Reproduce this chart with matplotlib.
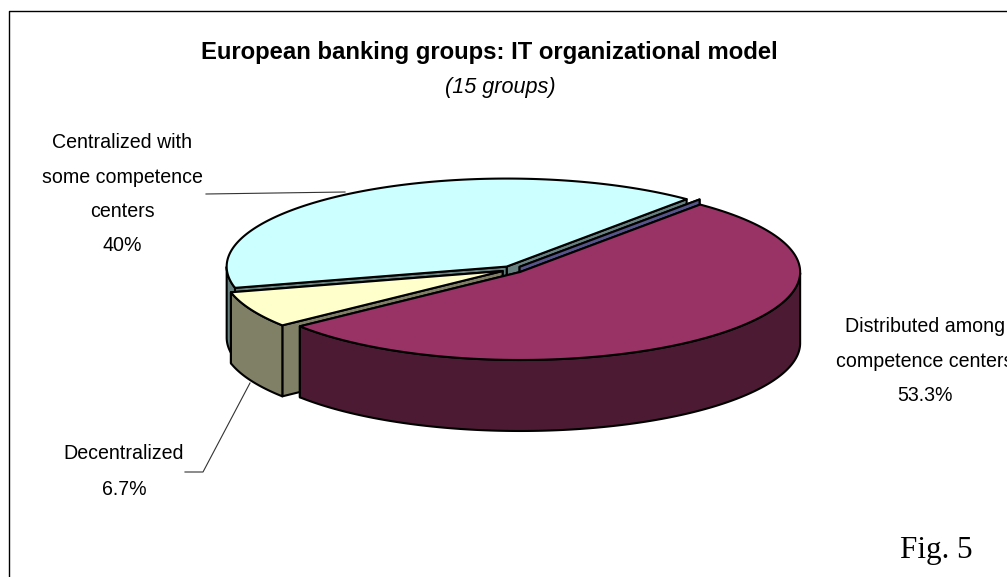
import numpy as np
import matplotlib
matplotlib.use('Agg')
import matplotlib.pyplot as plt

# Slices in clockwise order from the start angle
slice_names = ['Other', 'Distributed', 'Decentralized', 'Centralized']
slice_values = [0, 53.3, 6.7, 40]
top_colors = ['#9999ff', '#993366', '#ffffcc', '#ccffff']
wall_colors = ['#55558a', '#4d1a33', '#808066', '#668080']

title = 'European banking groups: IT organizational model'
subtitle = '(15 groups)'

# Pie geometry, in pixels
cx, cy = 512.5, 269.5
a, b = 280, 88
depth = 71
explode = 11
start_angle = 50

sans = 'Liberation Sans'

fig = plt.figure(figsize=(10.07, 5.77), dpi=100)
ax = fig.add_axes([0, 0, 1, 1])
ax.set_xlim(0, 1007)
ax.set_ylim(577, 0)
ax.axis('off')

# Outer frame, only the top and left sides fall inside the figure
ax.plot([1007, 8.5, 8.5], [10.5, 10.5, 577], color='black', lw=1.0)


def rim(x0, y0, t, dz=0):
    return x0 + a * np.cos(t), y0 - b * np.sin(t) + dz


def fill(xs, ys, color):
    ax.fill(xs, ys, facecolor=color, edgecolor='black', lw=1.5, joinstyle='round')


def inner_wall(x0, y0, t, color):
    x1, y1 = rim(x0, y0, t)
    fill([x0, x1, x1, x0], [y0, y1, y1 + depth, y0 + depth], color)


def draw_slice(t1, t2, top, wall):
    # t1 > t2, angles run clockwise
    mid = (t1 + t2) / 2
    x0 = cx + explode * np.cos(mid)
    y0 = cy - explode * b / a * np.sin(mid)

    # straight walls, the one further back first
    for t in sorted([t1, t2], key=lambda t: rim(x0, y0, t)[1]):
        inner_wall(x0, y0, t, wall)
    if t1 == t2:
        return

    # curved wall on the front half only
    ts = np.linspace(t1, t2, 240)
    front = ts[np.sin(ts) < 0]
    if len(front) > 1:
        xs, ys = rim(x0, y0, front)
        fill(np.r_[xs, xs[::-1]], np.r_[ys, ys[::-1] + depth], wall)

    xs, ys = rim(x0, y0, ts)
    fill(np.r_[x0, xs], np.r_[y0, ys], top)


angles = np.deg2rad(start_angle - np.cumsum([0] + slice_values) * 3.6)
spans = list(zip(angles[:-1], angles[1:], top_colors, wall_colors))

# Back slice first so the front ones paint over it
for i in [3, 0, 2, 1]:
    draw_slice(*spans[i])

# Leader lines
ax.plot([206, 345], [194, 192], color='#333333', lw=0.8)
ax.plot([185, 203, 250], [472, 472, 383], color='#333333', lw=0.8)

# Title block
ax.text(489, 59, title, family=sans, weight='bold', fontsize=17.2, ha='center', va='baseline')
ax.text(500, 93, subtitle, family=sans, style='italic', fontsize=15.6, ha='center', va='baseline')

# Slice labels, one text per line
label_lines = [
    (122, [148, 183, 217, 251], ['Centralized with', 'some competence', 'centers', f'{slice_values[3]:g}%']),
    (925, [332, 367, 401], ['Distributed among', 'competence centers', f'{slice_values[1]:g}%']),
    (124, [459, 495], ['Decentralized', f'{slice_values[2]:g}%']),
]
for x, ys, lines in label_lines:
    for y, line in zip(ys, lines):
        ax.text(x, y, line, family=sans, fontsize=14.1, ha='center', va='baseline', clip_on=True)

ax.text(936.5, 558, 'Fig. 5', family='Liberation Serif', fontsize=22.4, ha='center', va='baseline')

fig.savefig('out.png', dpi=100)
